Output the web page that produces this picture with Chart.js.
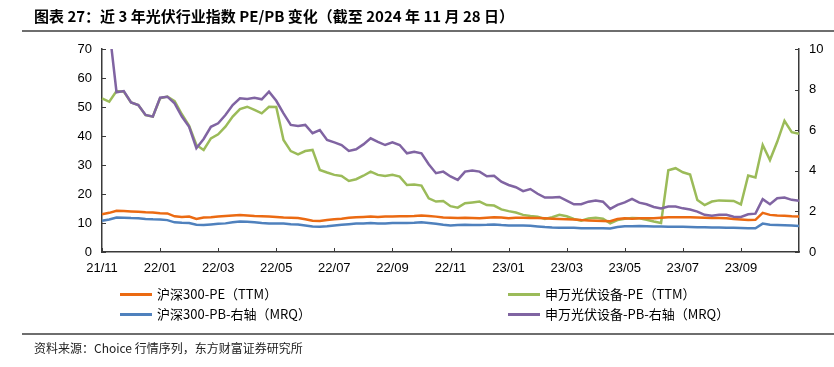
<!DOCTYPE html>
<html><head><meta charset="utf-8">
<script src="https://cdn.jsdelivr.net/npm/chart.js@4.4.1/dist/chart.umd.min.js"></script>
<style>
html,body{margin:0;padding:0;background:#fff;}
#wrap{position:relative;width:834px;height:367px;overflow:hidden;font-family:"Noto Sans CJK SC","Liberation Sans",sans-serif;color:#000;}
#c{position:absolute;left:0;top:0;}
.title{position:absolute;left:34px;top:6px;font-size:15px;font-weight:bold;white-space:nowrap;line-height:20px;}
.hline{position:absolute;left:22px;right:0;background:#6e6e6e;}
.leg{position:absolute;font-size:13px;white-space:nowrap;line-height:16px;}
.leg i{display:inline-block;width:32px;height:3px;vertical-align:middle;margin-right:5px;position:relative;top:-1px;}
.src{position:absolute;left:34px;top:339px;font-size:12px;white-space:nowrap;color:#222;}
</style></head>
<body><div id="wrap">
<canvas id="c" width="834" height="367"></canvas>
<div class="title">图表 27：近 3 年光伏行业指数 PE/PB 变化（截至 2024 年 11 月 28 日）</div>
<div class="hline" style="top:30px;height:2px;"></div>
<div id="legend"></div>
<div class="hline" style="top:333px;height:1.5px;"></div>
<div class="src">资料来源：Choice 行情序列，东方财富证券研究所</div>
</div>
<script>
// ---- data ----
const months = ['21/11','21/12','22/01','22/02','22/03','22/04','22/05','22/06','22/07','22/08','22/09','22/10',
                '22/11','22/12','23/01','23/02','23/03','23/04','23/05','23/06','23/07','23/08','23/09','23/10','23/11'];
const tickLabels = ['21/11','22/01','22/03','22/05','22/07','22/09','22/11','23/01','23/03','23/05','23/07','23/09'];
const seriesNames = ['沪深300-PE（TTM）','申万光伏设备-PE（TTM）','沪深300-PB-右轴（MRQ）','申万光伏设备-PB-右轴（MRQ）'];

// 沪深300-PE (TTM), left axis
const hs300PE = [13.0,13.5,14.2,14.1,14.0,13.9,13.7,13.6,13.4,13.3,12.3,12.1,12.2,11.4,11.9,12.0,12.2,12.4,12.6,12.8,12.6,12.4,12.3,12.2,12.1,
  11.9,11.8,11.7,11.3,10.8,10.7,11.0,11.3,11.5,11.8,12.0,12.1,12.2,12.1,12.2,12.2,12.3,12.3,12.4,12.6,12.4,12.2,11.9,11.8,
  11.7,11.8,11.7,11.6,11.8,12.0,11.9,11.6,11.8,11.8,11.7,11.7,11.6,11.5,11.4,11.3,11.2,11.0,10.9,10.8,10.7,10.6,11.4,11.6,
  11.5,11.6,11.6,11.6,11.8,12.0,12.0,12.0,12.0,11.9,11.8,11.7,11.7,11.6,11.4,11.2,11.0,11.1,13.5,12.8,12.6,12.5,12.3,12.2];
// 申万光伏设备-PE (TTM), left axis
const pvPE = [53.0,51.8,55.5,55.3,51.6,50.7,47.2,46.7,53.0,53.6,52.0,47.5,43.5,36.9,35.2,39.2,40.6,43.2,46.7,49.3,50.1,49.0,47.8,50.1,50.0,
  38.6,34.8,33.7,34.8,35.2,28.3,27.4,26.6,26.2,24.5,25.1,26.3,27.7,26.6,26.2,26.6,26.0,23.1,23.3,22.9,18.5,17.4,17.6,15.8,
  15.3,16.8,17.1,17.4,16.2,16.0,14.7,14.1,13.6,12.8,12.4,12.2,11.4,12.0,12.8,12.3,11.4,10.8,11.6,11.8,11.5,9.9,11.0,11.5,
  11.7,11.6,11.1,10.5,10.0,28.2,28.9,27.5,26.7,17.9,16.2,17.4,17.8,17.7,17.6,16.4,26.4,25.7,36.9,31.7,38.0,45.2,41.3,40.8];
// 沪深300-PB (MRQ), right axis
const hs300PB = [1.54,1.60,1.70,1.69,1.67,1.66,1.63,1.61,1.60,1.57,1.46,1.44,1.43,1.34,1.33,1.36,1.39,1.41,1.46,1.50,1.49,1.46,1.43,1.41,1.40,
  1.40,1.37,1.36,1.31,1.26,1.24,1.27,1.31,1.34,1.37,1.40,1.41,1.43,1.41,1.41,1.43,1.43,1.43,1.44,1.46,1.43,1.39,1.34,1.31,
  1.33,1.34,1.33,1.33,1.34,1.36,1.33,1.31,1.31,1.30,1.29,1.26,1.23,1.21,1.20,1.20,1.19,1.17,1.17,1.17,1.17,1.16,1.23,1.27,
  1.27,1.28,1.27,1.26,1.26,1.25,1.25,1.24,1.23,1.22,1.22,1.21,1.21,1.20,1.19,1.18,1.17,1.17,1.40,1.34,1.33,1.32,1.30,1.28];
// 申万光伏设备-PB (MRQ), right axis
const pvPB = [null,11,7.87,7.93,7.37,7.24,6.75,6.67,7.60,7.65,7.32,6.67,6.17,5.11,5.57,6.17,6.34,6.75,7.24,7.57,7.54,7.60,7.52,7.90,7.45,
  6.83,6.26,6.21,6.26,5.85,6.01,5.52,5.40,5.27,4.98,5.06,5.30,5.60,5.43,5.27,5.40,5.27,4.86,4.94,4.86,4.32,3.88,3.96,3.72,
  3.55,3.96,4.02,3.96,3.73,3.76,3.46,3.30,3.19,3.00,3.10,2.87,2.68,2.68,2.71,2.53,2.35,2.35,2.48,2.54,2.48,2.12,2.32,2.44,
  2.62,2.43,2.35,2.22,2.14,2.24,2.24,2.15,2.09,1.99,1.83,1.79,1.83,1.83,1.74,1.73,1.86,1.89,2.60,2.35,2.65,2.68,2.57,2.52];

const colors = ['#EB6A12','#9BBB59','#4F81BD','#8064A2'];

// weekly categories (4 per month)
const categories = [];
months.forEach(m => { for (let w = 1; w <= 4; w++) categories.push(m + '-w' + w); });
categories.length = hs300PE.length;

// ---- legend (HTML) ----
const legPos = [[120,286],[508,286],[120,306],[508,306]];
const legend = document.getElementById('legend');
seriesNames.forEach((n, k) => {
  const d = document.createElement('div');
  d.className = 'leg';
  d.style.left = legPos[k][0] + 'px';
  d.style.top = legPos[k][1] + 'px';
  d.innerHTML = '<i style="background:' + colors[k] + '"></i>' + n;
  legend.appendChild(d);
});

const AX = '#3a3a3a';
const inwardTicks = {
  id: 'inwardTicks',
  afterDraw(chart) {
    const ctx = chart.ctx, ca = chart.chartArea;
    ctx.save();
    ctx.strokeStyle = AX; ctx.lineWidth = 1;
    const L = 4;
    const yl = chart.scales.y, yr = chart.scales.y1, x = chart.scales.x;
    ctx.beginPath();
    yl.ticks.forEach(t => { const p = Math.round(yl.getPixelForValue(t.value)) + 0.5; ctx.moveTo(ca.left, p); ctx.lineTo(ca.left + L, p); });
    yr.ticks.forEach(t => { const p = Math.round(yr.getPixelForValue(t.value)) + 0.5; ctx.moveTo(ca.right, p); ctx.lineTo(ca.right - L, p); });
    categories.forEach((c, i) => {
      const m = c.split('-')[0];
      if (c.endsWith('-w1') && tickLabels.includes(m)) {
        const p = Math.round(x.getPixelForValue(i)) + 0.5;
        ctx.moveTo(p, ca.bottom); ctx.lineTo(p, ca.bottom - L);
      }
    });
    ctx.stroke();
    ctx.restore();
  }
};

const mk = (label, data, color, axis, order) => ({
  label, data, borderColor: color, backgroundColor: color, borderWidth: 2.5,
  pointRadius: 0, tension: 0, yAxisID: axis, order, spanGaps: false
});

new Chart(document.getElementById('c'), {
  type: 'line',
  data: {
    labels: categories,
    datasets: [
      mk(seriesNames[0], hs300PE, colors[0], 'y', 2),
      mk(seriesNames[1], pvPE, colors[1], 'y', 4),
      mk(seriesNames[2], hs300PB, colors[2], 'y1', 3),
      mk(seriesNames[3], pvPB, colors[3], 'y1', 1)
    ]
  },
  options: {
    responsive: false, animation: false, devicePixelRatio: 1,
    layout: { padding: { top: 49, left: 0, right: 0, bottom: 0 } },
    plugins: { legend: { display: false }, tooltip: { enabled: false } },
    scales: {
      x: {
        type: 'category',
        grid: { display: false, drawTicks: false },
        border: { display: true, color: AX, width: 1.5 },
        ticks: {
          autoSkip: false, maxRotation: 0, padding: 9, color: '#000',
          font: { family: 'Liberation Sans, Arial, sans-serif', size: 13 },
          callback: function(v, i) {
            const c = categories[i];
            const m = c.split('-')[0];
            return (c.endsWith('-w1') && tickLabels.includes(m)) ? m : null;
          }
        },
        afterFit(s) { s.height = 115; }
      },
      y: {
        position: 'left', min: 0, max: 70,
        grid: { display: false, drawTicks: false },
        border: { display: true, color: AX, width: 1.5 },
        ticks: { stepSize: 10, padding: 10, color: '#000', font: { family: 'Liberation Sans, Arial, sans-serif', size: 13 } },
        afterFit(s) { s.width = 102; }
      },
      y1: {
        position: 'right', min: 0, max: 10,
        grid: { display: false, drawTicks: false },
        border: { display: true, color: AX, width: 1.5 },
        ticks: { stepSize: 2, padding: 10, color: '#000', font: { family: 'Liberation Sans, Arial, sans-serif', size: 13 } },
        afterFit(s) { s.width = 35; }
      }
    }
  },
  plugins: [inwardTicks]
});
</script>
</body></html>
